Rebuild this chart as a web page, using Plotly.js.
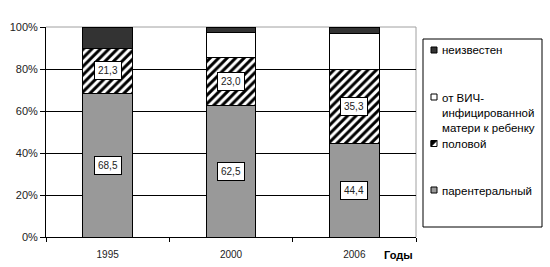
<!DOCTYPE html>
<html><head><meta charset="utf-8">
<script src="https://cdn.plot.ly/plotly-3.0.1.min.js"></script>
<style>html,body{margin:0;padding:0;background:#fff;}#chart{width:550px;height:267px;}</style>
</head><body><div id="chart"></div>
<script>
const years = ['1995', '2000', '2006'];
const parenteral = [68.5, 62.5, 44.4];
const sexual = [21.3, 23.0, 35.3];
const motherToChild = [0.0, 11.8, 17.4];
const unknown = [10.2, 2.7, 2.9];
const seriesNames = ['парентеральный', 'половой', 'от ВИЧ-<br>инфицированной<br>матери к ребенку', 'неизвестен'];
const yTicks = [0, 20, 40, 60, 80, 100];
const yTickText = ['0%', '20%', '40%', '60%', '80%', '100%'];
const xAxisTitle = 'Годы';

const FONT = 'Liberation Sans, Arial, sans-serif';
const line = {color: '#000', width: 1};
const traces = [
  {type: 'bar', x: years, y: parenteral, name: seriesNames[0], marker: {color: '#999999', line: line}},
  {type: 'bar', x: years, y: sexual, name: seriesNames[1], marker: {color: '#ffffff', line: line, pattern: {shape: '/', fgcolor: '#000', bgcolor: '#fff', size: 6, solidity: 0.5}}},
  {type: 'bar', x: years, y: motherToChild, name: seriesNames[2], marker: {color: '#ffffff', line: line}},
  {type: 'bar', x: years, y: unknown, name: seriesNames[3], marker: {color: '#333333', line: line}}
];
traces.forEach(t => { t.showlegend = false; t.hoverinfo = 'none'; });

const fmt = v => v.toFixed(1).replace('.', ',');
const annotations = [];
years.forEach((yr, i) => {
  annotations.push({x: i, y: parenteral[i] / 2, text: fmt(parenteral[i]), showarrow: false,
    bgcolor: '#fff', bordercolor: '#000', borderwidth: 1, borderpad: 3, font: {family: FONT, size: 10, color: '#222'}});
  annotations.push({x: i, y: parenteral[i] + sexual[i] / 2, text: fmt(sexual[i]), showarrow: false,
    bgcolor: '#fff', bordercolor: '#000', borderwidth: 1, borderpad: 3, font: {family: FONT, size: 10, color: '#222'}});
});

// custom legend (paper coordinates)
const px = v => (v - 46) / 370;
const py = v => (237 - v) / 210;
annotations.push({xref: 'paper', yref: 'paper', x: px(382), y: py(255), xanchor: 'left', yanchor: 'middle',
  text: '<b>' + xAxisTitle + '</b>', showarrow: false, font: {family: FONT, size: 11, color: '#000'}});
const shapes = [
  {type: 'line', xref: 'paper', yref: 'paper', x0: 0, x1: 1, y0: 1, y1: 1, line: {color: '#a0a0a0', width: 1}, layer: 'below'},
  {type: 'line', xref: 'paper', yref: 'paper', x0: 1, x1: 1, y0: 0, y1: 1, line: {color: '#a0a0a0', width: 1}, layer: 'below'},
  {type: 'rect', xref: 'paper', yref: 'paper', x0: px(423), x1: px(542), y0: py(227), y1: py(39), line: {color: '#000', width: 1}, fillcolor: 'rgba(0,0,0,0)'}
];
const legendRows = [
  {name: seriesNames[3], y: 50, fill: '#333333'},
  {name: seriesNames[2], y: 97, fill: '#ffffff'},
  {name: seriesNames[1], y: 143.5, fill: 'hatch'},
  {name: seriesNames[0], y: 190, fill: '#999999'}
];
legendRows.forEach(r => {
  shapes.push({type: 'rect', xref: 'paper', yref: 'paper', x0: px(431), x1: px(437), y0: py(r.y + 3), y1: py(r.y - 3),
    line: {color: '#000', width: 1}, fillcolor: r.fill === 'hatch' ? '#fff' : r.fill});
  if (r.fill === 'hatch') {
    shapes.push({type: 'path', xref: 'paper', yref: 'paper',
      path: `M ${px(431)},${py(r.y + 3)} L ${px(437)},${py(r.y - 3)} L ${px(431)},${py(r.y - 3)} Z`,
      line: {color: '#000', width: 1}, fillcolor: '#000'});
  }
  annotations.push({xref: 'paper', yref: 'paper', x: px(440), y: py(r.y - 7.5), xanchor: 'left', yanchor: 'top', align: 'left',
    text: r.name, showarrow: false, font: {family: FONT, size: 11.5, color: '#000'}});
});

const layout = {
  width: 550, height: 267,
  margin: {l: 46, r: 134, t: 27, b: 30},
  paper_bgcolor: '#fff', plot_bgcolor: '#fff',
  barmode: 'stack', bargap: 0.595,
  font: {family: FONT, size: 11, color: '#000'},
  xaxis: {type: 'category', range: [-0.5, 2.5], showline: true, linecolor: '#000', linewidth: 1, ticks: 'outside', tickson: 'boundaries',
    ticklen: 4, tickcolor: '#000', ticklabelstandoff: 8, tickfont: {family: FONT, size: 10, color: '#222'}, showgrid: false, fixedrange: true},
  yaxis: {range: [0, 100], tickvals: yTicks, ticktext: yTickText, showline: true, linecolor: '#000', linewidth: 1,
    ticks: 'outside', ticklen: 5, tickcolor: '#000', showgrid: true, gridcolor: '#000', gridwidth: 1, zeroline: false,
    tickfont: {family: FONT, size: 11, color: '#222'}, fixedrange: true},
  annotations: annotations,
  shapes: shapes
};
Plotly.newPlot('chart', traces, layout, {staticPlot: true, displayModeBar: false});
</script></body></html>
